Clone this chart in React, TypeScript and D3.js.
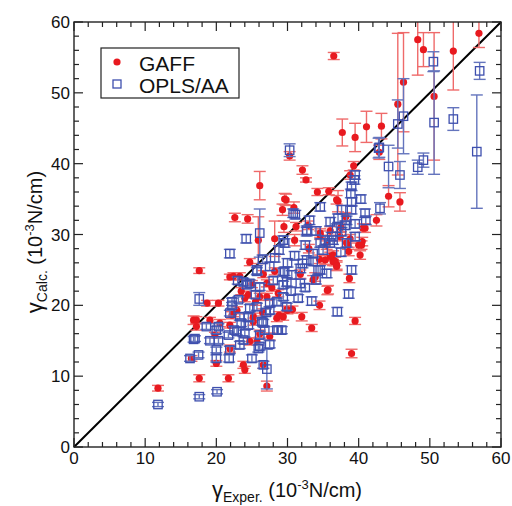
import React from "react";
import * as d3 from "d3";

// GAFF series: experimental x, calculated y, error
const gaffX = [11.8, 17.6, 21.7, 27.1, 17.6, 21.9, 23.3, 26.6, 27.1, 18.7, 20.3, 16.8, 17.2, 19.1, 20.5, 21.9, 19.8, 23.8, 24.0, 20.0, 16.5, 26.6, 25.7, 24.7, 26.1, 22.2, 22.9, 25.2, 28.5, 28.8, 27.1, 29.9, 26.1, 24.4, 24.7, 25.9, 28.2, 29.3, 29.6, 29.5, 30.3, 32.1, 32.6, 34.2, 35.8, 39.3, 38.8, 37.1, 29.8, 30.9, 31.2, 31.0, 44.2, 45.8, 42.5, 40.6, 34.6, 32.9, 38.3, 38.8, 40.2, 36.4, 38.6, 38.7, 35.6, 34.5, 32.0, 30.7, 30.0, 29.4, 33.4, 39.5, 39.0, 36.9, 36.4, 33.6, 31.8, 36.5, 56.9, 53.3, 49.1, 48.3, 46.3, 45.5, 50.6, 41.1, 43.2, 37.7, 39.5, 42.9, 24.0, 25.5, 26.5, 27.8, 23.5, 28.2, 25.0, 33.0, 34.5, 35.5, 36.0, 37.5, 38.2, 40.0, 40.5, 22.6,
  22.4, 24.5, 26.1, 28.7, 17.2, 22.4, 25.2, 27.5, 21.9, 34.6, 38.5, 40.4, 36.0, 35.3, 36.7, 36.9, 33.9, 35.7, 37.4, 36.9, 40.9];
const gaffY = [8.3, 9.7, 9.7, 8.6, 24.9, 24.0, 24.1, 24.4, 23.1, 20.3, 20.3, 17.9, 17.0, 17.9, 17.5, 17.2, 15.8, 11.6, 10.9, 11.8, 12.5, 11.6, 14.9, 14.9, 16.0, 18.6, 19.3, 17.7, 18.2, 18.6, 21.2, 19.4, 36.9, 32.2, 26.1, 29.2, 29.4, 33.5, 35.0, 31.1, 41.1, 39.1, 37.7, 36.0, 36.1, 39.7, 38.4, 34.7, 34.9, 33.8, 31.1, 29.2, 35.4, 34.6, 32.0, 30.9, 29.9, 31.3, 28.8, 29.4, 27.1, 27.1, 27.6, 23.8, 22.1, 20.0, 18.4, 19.4, 19.3, 18.4, 16.8, 17.8, 13.2, 25.7, 26.2, 23.6, 24.4, 55.2, 58.4, 55.9, 56.1, 57.5, 51.5, 48.4, 49.5, 45.2, 45.3, 44.4, 43.7, 41.6, 21.0, 20.5, 19.0, 22.5, 22.0, 24.8, 23.0, 28.0, 26.5, 28.5, 30.5, 31.0, 32.5, 28.5, 29.0, 32.4,
  24.1, 21.5, 21.2, 21.7, 17.9, 18.9, 18.4, 15.6, 13.9, 30.2, 28.5, 28.5, 26.9, 26.4, 26.2, 25.5, 24.0, 22.2, 29.7, 34.9, 30.9];
const gaffErr = [0.4, 0.5, 0.5, 0.7, 0.4, 0.4, 0.5, 0.5, 0.5, 0.4, 0.4, 0.6, 0.5, 0.4, 0.5, 0.4, 0.4, 0.5, 0.5, 0.4, 0.4, 0.5, 0.5, 0.5, 0.5, 0.5, 0.5, 0.5, 0.5, 0.5, 0.5, 0.5, 2.0, 0.6, 0.5, 3.3, 2.5, 0.8, 0.8, 0.8, 0.6, 0.6, 0.3, 0.5, 0.5, 0.6, 0.6, 1.5, 0.8, 0.8, 0.6, 0.8, 1.5, 1.3, 0.8, 0.6, 0.6, 0.6, 0.6, 0.6, 0.6, 0.6, 0.6, 0.6, 0.6, 0.6, 0.6, 0.5, 0.5, 0.5, 0.5, 0.5, 0.6, 0.6, 0.6, 0.6, 0.6, 0.5, 2.0, 5.5, 2.4, 5.0, 7.0, 10.0, 9.0, 2.2, 1.8, 1.9, 2.0, 1.0, 0.5, 0.5, 0.5, 0.5, 0.5, 0.5, 0.5, 0.6, 0.6, 0.6, 0.6, 0.6, 0.6, 0.6, 0.6, 0.6,
  0.5, 0.5, 0.5, 0.5, 0.5, 0.5, 0.5, 0.5, 0.5, 0.6, 0.6, 0.6, 0.6, 0.6, 0.6, 0.6, 0.6, 0.6, 0.6, 0.6, 0.6];

// OPLS/AA series
const oplsX = [11.8, 17.6, 20.1, 17.6, 16.8, 19.1, 20.3, 16.3, 17.5, 20.0, 20.0, 21.8, 21.9, 18.6, 20.3, 21.7, 23.3, 21.9, 22.2, 23.1, 25.7, 24.3, 26.1, 24.7, 26.6, 26.1, 25.9, 27.1, 26.6, 28.5, 29.4, 29.4, 27.5, 29.9, 24.2, 21.9, 26.1, 28.2, 25.7, 30.3, 42.8, 44.2, 39.5, 39.4, 39.0, 38.9, 39.0, 39.0, 34.6, 37.6, 37.1, 40.9, 43.0, 31.1, 33.1, 32.7, 29.4, 36.0, 36.9, 35.3, 36.4, 35.0, 33.6, 38.3, 38.1, 39.5, 39.0, 38.6, 37.0, 33.4, 31.8, 29.6, 30.6, 34.3, 35.5, 34.0, 32.1, 29.2, 50.5, 50.6, 57.0, 53.3, 56.6, 46.3, 45.5, 45.8, 48.3, 49.1, 42.9, 23.5, 24.5, 25.5, 27.0, 28.0, 23.0, 26.5, 27.5, 28.8, 31.0, 32.5, 30.0, 34.0, 37.5, 39.5, 40.3, 41.0, 30.5, 31.5, 32.5, 22.5, 24.0, 27.5, 25.0,
  29.6, 29.4, 23.8, 24.7, 22.2, 28.5, 25.7, 27.5, 23.3, 26.4, 24.5, 26.8, 28.7, 20.0, 22.9, 17.0, 23.8, 26.1, 30.8, 32.7, 34.6, 36.0, 36.2, 37.6, 38.3, 32.7, 33.6, 31.8, 34.6, 29.9];
const oplsY = [6.0, 7.1, 7.8, 20.9, 15.2, 15.0, 15.0, 12.5, 13.0, 13.7, 12.5, 12.5, 13.7, 17.0, 17.0, 15.8, 14.4, 18.9, 20.0, 20.8, 24.8, 22.9, 22.6, 19.6, 17.5, 15.8, 13.9, 11.0, 11.6, 16.5, 22.9, 21.2, 20.3, 19.8, 29.4, 27.3, 30.2, 26.7, 25.0, 41.9, 42.2, 39.6, 38.4, 37.7, 36.8, 35.8, 34.6, 33.5, 33.9, 33.5, 32.3, 33.0, 33.7, 32.8, 32.0, 30.6, 29.2, 31.8, 30.9, 29.2, 29.2, 27.8, 27.3, 28.8, 31.3, 29.7, 25.0, 21.6, 19.1, 20.6, 23.1, 24.8, 24.3, 25.0, 24.5, 23.6, 25.9, 16.5, 54.4, 45.8, 53.1, 46.3, 41.7, 46.7, 45.6, 38.4, 39.5, 40.5, 42.3, 17.5, 18.3, 21.5, 19.0, 23.5, 23.5, 26.5, 25.5, 27.8, 27.0, 28.5, 26.0, 30.5, 27.5, 31.5, 35.0, 32.0, 22.0, 21.0, 22.5, 16.5, 16.0, 14.5, 12.5,
  28.8, 24.7, 23.3, 23.1, 20.5, 20.5, 19.8, 19.3, 18.4, 17.7, 17.2, 16.5, 16.5, 16.5, 16.3, 15.3, 15.1, 14.2, 33.0, 30.4, 28.8, 28.8, 29.7, 30.4, 32.0, 26.4, 26.2, 25.2, 25.0, 23.3];
const oplsErr = [0.3, 0.3, 0.3, 0.9, 0.4, 0.4, 0.4, 0.4, 0.4, 0.4, 0.5, 0.5, 0.5, 0.4, 0.4, 0.4, 0.5, 0.4, 0.4, 0.4, 0.5, 0.5, 0.5, 0.5, 0.5, 0.5, 0.5, 2.8, 0.5, 0.5, 0.5, 0.5, 0.5, 0.5, 0.6, 0.6, 3.4, 0.6, 0.6, 0.9, 1.4, 3.0, 0.6, 0.6, 0.6, 0.6, 0.6, 0.6, 0.6, 0.6, 0.6, 0.6, 0.8, 0.6, 0.6, 0.6, 0.6, 0.6, 0.6, 0.6, 0.6, 0.6, 0.6, 0.6, 0.6, 0.6, 0.6, 0.6, 0.6, 0.6, 0.6, 0.6, 0.6, 0.6, 0.6, 0.6, 0.6, 0.5, 1.4, 7.3, 1.2, 1.6, 8.0, 5.3, 3.4, 1.9, 1.0, 1.0, 1.4, 0.5, 0.5, 0.5, 0.5, 0.5, 0.5, 0.6, 0.6, 0.6, 0.6, 0.6, 0.6, 0.6, 0.6, 0.6, 0.6, 0.6, 0.5, 0.5, 0.5, 0.5, 0.5, 0.5, 0.5,
  0.6, 0.5, 0.5, 0.5, 0.5, 0.5, 0.5, 0.5, 0.5, 0.5, 0.5, 0.5, 0.5, 0.5, 0.5, 0.4, 0.5, 0.5, 0.6, 0.6, 0.6, 0.6, 0.6, 0.6, 0.6, 0.6, 0.6, 0.6, 0.6, 0.6];

const ticks = [0, 10, 20, 30, 40, 50, 60];
const minorTicks = d3.range(0, 61, 2);
const seriesNames = ["GAFF", "OPLS/AA"];

const W = 512, H = 506;
const L = 74, R = 501, T = 22, B = 447;
const RED = "#e8191f", RED_BAR = "#ef6a6a";
const BLUE = "#3e4fae", BLUE_BAR = "#6474bd";
const FONT = "'Liberation Sans', Arial, Helvetica, sans-serif";

export default function App() {
  const x = d3.scaleLinear().domain([0, 60]).range([L, R]);
  const y = d3.scaleLinear().domain([0, 60]).range([B, T]);
  const cap = 6;
  const clip = (v: number) => Math.max(T, Math.min(B, v));

  const gaff = gaffX.map((v, i) => ({ x: v, y: gaffY[i], e: gaffErr[i] }));
  const opls = oplsX.map((v, i) => ({ x: v, y: oplsY[i], e: oplsErr[i] }));

  const bars = (data: { x: number; y: number; e: number }[], color: string, key: string) =>
    data.map((d, i) => {
      const cx = x(d.x);
      const y1 = y(d.y + d.e), y2 = y(d.y - d.e);
      return (
        <g key={key + i} stroke={color} strokeWidth={1.4} fill="none">
          <line x1={cx} x2={cx} y1={clip(y1)} y2={clip(y2)} />
          {y1 >= T && <line x1={cx - cap} x2={cx + cap} y1={y1} y2={y1} />}
          {y2 <= B && <line x1={cx - cap} x2={cx + cap} y1={y2} y2={y2} />}
        </g>
      );
    });

  return (
    <svg width={W} height={H} style={{ display: "block", position: "absolute", left: 0, top: 0 }} fontFamily={FONT}>
      <rect x={0} y={0} width={W} height={H} fill="white" />
      <defs>
        <clipPath id="plot">
          <rect x={L} y={T} width={R - L} height={B - T} />
        </clipPath>
      </defs>
      {/* diagonal */}
      <line x1={x(0)} y1={y(0)} x2={x(60)} y2={y(60)} stroke="black" strokeWidth={2} />
      <g clipPath="url(#plot)">
        {bars(gaff, RED_BAR, "gb")}
        {gaff.map((d, i) => (
          <circle key={"g" + i} cx={x(d.x)} cy={y(d.y)} r={3.6} fill={RED} />
        ))}
        {bars(opls, BLUE_BAR, "ob")}
        {opls.map((d, i) => (
          <rect key={"o" + i} x={x(d.x) - 4.2} y={y(d.y) - 4.2} width={8.4} height={8.4} fill="none" stroke={BLUE} strokeWidth={1.3} />
        ))}
      </g>
      {/* frame */}
      <rect x={L} y={T} width={R - L} height={B - T} fill="none" stroke="#222" strokeWidth={1.4} />
      {/* ticks */}
      <g stroke="#222" strokeWidth={1.2}>
        {minorTicks.map((t) => {
          const len = t % 10 === 0 ? 9 : 5;
          return (
            <g key={"t" + t}>
              <line x1={x(t)} x2={x(t)} y1={B} y2={B - len} />
              <line x1={x(t)} x2={x(t)} y1={T} y2={T + len} />
              <line x1={L} x2={L + len} y1={y(t)} y2={y(t)} />
              <line x1={R} x2={R - len} y1={y(t)} y2={y(t)} />
            </g>
          );
        })}
      </g>
      {/* tick labels */}
      <g fontSize={17} fill="#111">
        {ticks.map((t) => (
          <text key={"xl" + t} x={x(t)} y={B + 17} textAnchor="middle">{t}</text>
        ))}
        {ticks.map((t) => (
          <text key={"yl" + t} x={L - 4} y={y(t) + 6} textAnchor="end">{t}</text>
        ))}
      </g>
      {/* axis titles */}
      <text x={287} y={497} textAnchor="middle" fontSize={20} fill="#111">
        <tspan fontSize={22}>γ</tspan>
        <tspan fontSize={14} dy={5}>Exper.</tspan>
        <tspan dy={-5}> (10</tspan>
        <tspan fontSize={13} dy={-8}>-3</tspan>
        <tspan dy={8}>N/cm)</tspan>
      </text>
      <text transform="translate(42,242) rotate(-90)" textAnchor="middle" fontSize={20} fill="#111">
        <tspan fontSize={22}>γ</tspan>
        <tspan fontSize={14} dy={5}>Calc.</tspan>
        <tspan dy={-5}> (10</tspan>
        <tspan fontSize={13} dy={-8}>-3</tspan>
        <tspan dy={8}>N/cm)</tspan>
      </text>
      {/* legend */}
      <rect x={101} y={48} width={138} height={50} fill="white" stroke="#222" strokeWidth={1.2} />
      <circle cx={117} cy={62} r={3.6} fill={RED} />
      <text x={139} y={70.5} fontSize={21} fill="#111">{seriesNames[0]}</text>
      <rect x={113} y={80} width={8} height={8} fill="none" stroke={BLUE} strokeWidth={1.3} />
      <text x={139} y={92.5} fontSize={21} fill="#111">{seriesNames[1]}</text>
    </svg>
  );
}
